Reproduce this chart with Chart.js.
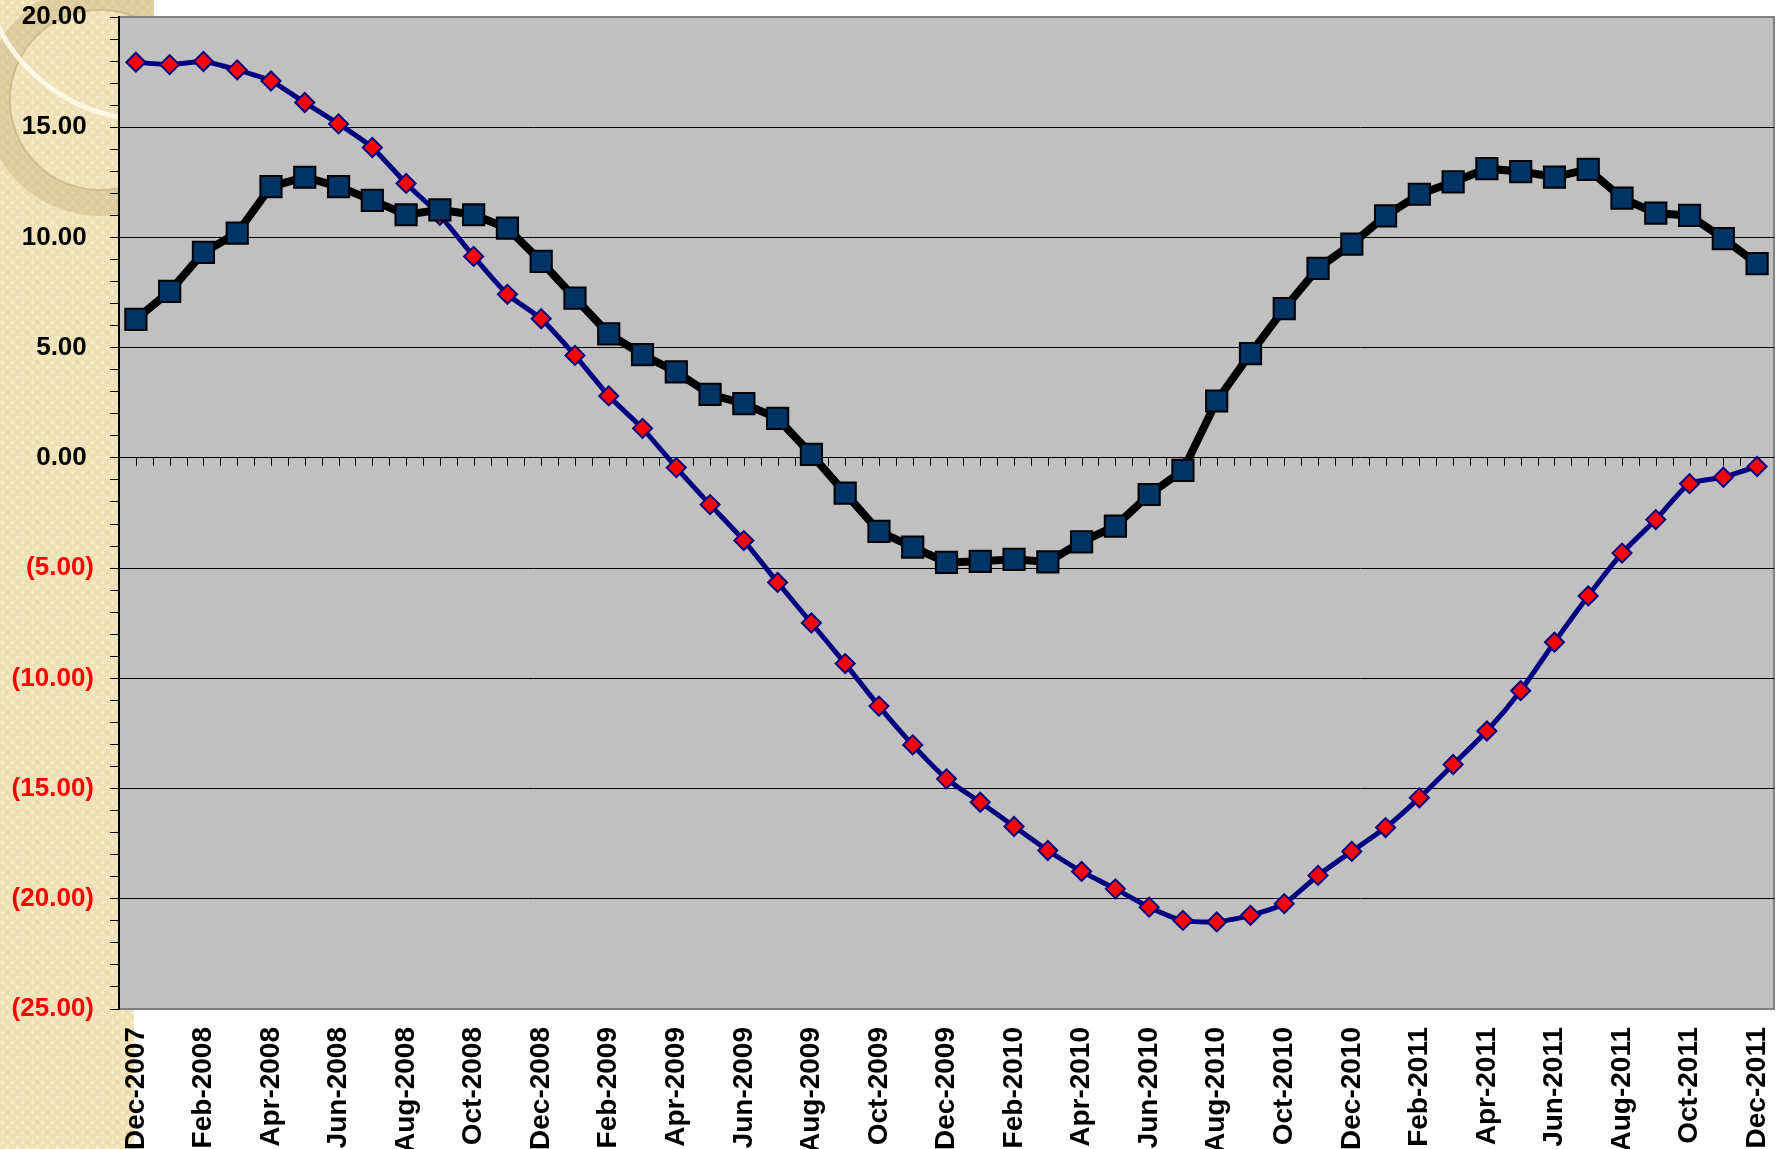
<!DOCTYPE html>
<html>
<head>
<meta charset="utf-8">
<script src="https://cdn.jsdelivr.net/npm/chart.js@4.4.1/dist/chart.umd.min.js"></script>
<style>
html, body { margin: 0; padding: 0; background: #ffffff; }
canvas { display: block; }
</style>
</head>
<body>
<canvas id="lineChart" width="1791" height="1149"></canvas>
<script>
var months = [
    'Dec-2007', 'Jan-2008', 'Feb-2008', 'Mar-2008', 'Apr-2008', 'May-2008', 'Jun-2008', 'Jul-2008',
    'Aug-2008', 'Sep-2008', 'Oct-2008', 'Nov-2008', 'Dec-2008', 'Jan-2009', 'Feb-2009', 'Mar-2009',
    'Apr-2009', 'May-2009', 'Jun-2009', 'Jul-2009', 'Aug-2009', 'Sep-2009', 'Oct-2009', 'Nov-2009',
    'Dec-2009', 'Jan-2010', 'Feb-2010', 'Mar-2010', 'Apr-2010', 'May-2010', 'Jun-2010', 'Jul-2010',
    'Aug-2010', 'Sep-2010', 'Oct-2010', 'Nov-2010', 'Dec-2010', 'Jan-2011', 'Feb-2011', 'Mar-2011',
    'Apr-2011', 'May-2011', 'Jun-2011', 'Jul-2011', 'Aug-2011', 'Sep-2011', 'Oct-2011', 'Nov-2011',
    'Dec-2011'
];

// black line, navy squares
var squareSeries = [
    6.28, 7.55, 9.32, 10.20, 12.31, 12.73, 12.31, 11.68,
    11.03, 11.25, 11.03, 10.42, 8.91, 7.25, 5.63, 4.68,
    3.90, 2.88, 2.46, 1.79, 0.16, -1.60, -3.33, -4.05,
    -4.74, -4.69, -4.60, -4.72, -3.81, -3.10, -1.66, -0.57,
    2.58, 4.73, 6.77, 8.60, 9.70, 10.98, 11.96, 12.52,
    13.12, 12.99, 12.74, 13.09, 11.78, 11.10, 11.00, 9.95,
    8.81
];

// navy line, red diamonds
var diamondSeries = [
    17.95, 17.84, 17.98, 17.60, 17.10, 16.12, 15.15, 14.08,
    12.45, 11.00, 9.14, 7.42, 6.31, 4.65, 2.81, 1.34,
    -0.44, -2.12, -3.75, -5.65, -7.49, -9.33, -11.26, -13.02,
    -14.56, -15.62, -16.72, -17.81, -18.76, -19.55, -20.38, -20.98,
    -21.05, -20.75, -20.22, -18.94, -17.85, -16.77, -15.42, -13.91,
    -12.39, -10.56, -8.36, -6.26, -4.32, -2.80, -1.17, -0.88,
    -0.39
];

var yMin = -25, yMax = 20;
var yLabelStep = 5;

var FONT = 'Arial, "Liberation Sans", sans-serif';

function makeBeige(ctx) {
    var c = document.createElement('canvas');
    c.width = 10; c.height = 10;
    var p = c.getContext('2d');
    p.fillStyle = '#f1e1b7';
    p.fillRect(0, 0, 10, 10);
    p.fillStyle = '#f7ebca';
    p.fillRect(1, 1, 3, 3);
    p.fillRect(6, 6, 3, 3);
    p.fillStyle = '#ecdcae';
    p.fillRect(6, 1, 3, 3);
    return ctx.createPattern(c, 'repeat');
}

var backdrop = {
    id: 'backdrop',
    beforeDraw: function(chart) {
        var ctx = chart.ctx, a = chart.chartArea;
        ctx.save();
        ctx.fillStyle = '#ffffff';
        ctx.fillRect(0, 0, chart.width, chart.height);

        // slide background strip on the left
        ctx.fillStyle = makeBeige(ctx);
        ctx.fillRect(0, 0, 134, chart.height);
        ctx.fillRect(0, 0, 154, a.top);

        // faint glass ring in the corner
        ctx.save();
        ctx.beginPath();
        ctx.rect(0, 0, 134, chart.height);
        ctx.rect(134, 0, 20, a.top);
        ctx.clip();
        ctx.beginPath();
        ctx.arc(100, 100, 103, 0, Math.PI * 2);
        ctx.lineWidth = 26;
        ctx.strokeStyle = 'rgba(185,165,115,0.35)';
        ctx.stroke();
        ctx.beginPath();
        ctx.arc(100, 100, 90, 0, Math.PI * 2);
        ctx.lineWidth = 2;
        ctx.strokeStyle = 'rgba(170,150,100,0.4)';
        ctx.stroke();
        ctx.beginPath();
        ctx.arc(150, -50, 170, Math.PI * 0.52, Math.PI * 0.88);
        ctx.lineWidth = 5;
        ctx.strokeStyle = 'rgba(255,250,235,0.85)';
        ctx.stroke();
        ctx.restore();

        // plot area
        ctx.fillStyle = '#c0c0c0';
        ctx.fillRect(a.left, a.top, a.right - a.left, a.bottom - a.top);
        ctx.strokeStyle = '#808080';
        ctx.lineWidth = 2;
        ctx.strokeRect(a.left, a.top, a.right - a.left, a.bottom - a.top);
        ctx.restore();
    },
    beforeDatasetsDraw: function(chart) {
        // category tick marks hanging from the zero line
        var ctx = chart.ctx;
        var xs = chart.scales.x, ys = chart.scales.y;
        var y0 = ys.getPixelForValue(0);
        var half = (xs.getPixelForValue(1) - xs.getPixelForValue(0)) / 2;
        ctx.save();
        ctx.strokeStyle = '#000000';
        ctx.lineWidth = 1;
        ctx.beginPath();
        for (var i = 0; i < months.length; i++) {
            var x = xs.getPixelForValue(i);
            ctx.moveTo(Math.round(x - half) + 0.5, y0);
            ctx.lineTo(Math.round(x - half) + 0.5, y0 + 8);
            ctx.moveTo(Math.round(x) + 0.5, y0);
            ctx.lineTo(Math.round(x) + 0.5, y0 + 8);
        }
        ctx.stroke();
        ctx.restore();
    }
};

var ctx = document.getElementById('lineChart').getContext('2d');
var lineChart = new Chart(ctx, {
    type: 'line',
    data: {
        labels: months,
        datasets: [{
            data: squareSeries,
            borderColor: '#000000',
            borderWidth: 8,
            pointStyle: 'rect',
            pointRadius: 15,
            pointBackgroundColor: '#003366',
            pointBorderColor: '#000000',
            pointBorderWidth: 2,
            tension: 0
        }, {
            data: diamondSeries,
            borderColor: '#000080',
            borderWidth: 5,
            pointStyle: 'rectRot',
            pointRadius: 9.5,
            pointBackgroundColor: '#ff0000',
            pointBorderColor: '#000080',
            pointBorderWidth: 2,
            tension: 0.2
        }]
    },
    options: {
        responsive: false,
        animation: false,
        layout: {
            padding: 0
        },
        plugins: {
            legend: { display: false },
            tooltip: { enabled: false }
        },
        scales: {
            x: {
                offset: true,
                grid: { display: false },
                border: { display: false },
                afterFit: function(scale) {
                    scale.height = 140;
                    scale.paddingLeft = 0;
                    scale.paddingRight = 15;
                },
                ticks: {
                    autoSkip: false,
                    maxRotation: 90,
                    minRotation: 90,
                    padding: 10,
                    color: '#000000',
                    font: { family: FONT, size: 28, weight: 'bold' },
                    callback: function(val, idx) {
                        return idx % 2 === 0 ? months[idx] : '';
                    }
                }
            },
            y: {
                min: yMin,
                max: yMax,
                afterFit: function(scale) {
                    scale.width = 119;
                    scale.paddingTop = 16;
                    scale.paddingBottom = 0;
                },
                border: { display: true, color: '#000000', width: 2 },
                grid: {
                    drawTicks: true,
                    tickLength: 9,
                    tickColor: '#000000',
                    lineWidth: 1,
                    color: function(c) {
                        var v = c.tick.value;
                        if (v === yMin || v === yMax) return 'rgba(0,0,0,0)';
                        return v % yLabelStep === 0 ? '#000000' : 'rgba(0,0,0,0)';
                    }
                },
                ticks: {
                    stepSize: 1,
                    autoSkip: false,
                    padding: 16,
                    font: { family: FONT, size: 26, weight: 'bold' },
                    color: function(c) {
                        return c.tick.value < 0 ? '#ff0000' : '#000000';
                    },
                    callback: function(v) {
                        if (v % yLabelStep !== 0) return '';
                        if (v < 0) return '(' + Math.abs(v).toFixed(2) + ')';
                        return v.toFixed(2) + '\u2008';
                    }
                }
            }
        }
    },
    plugins: [backdrop]
});
</script>
</body>
</html>
